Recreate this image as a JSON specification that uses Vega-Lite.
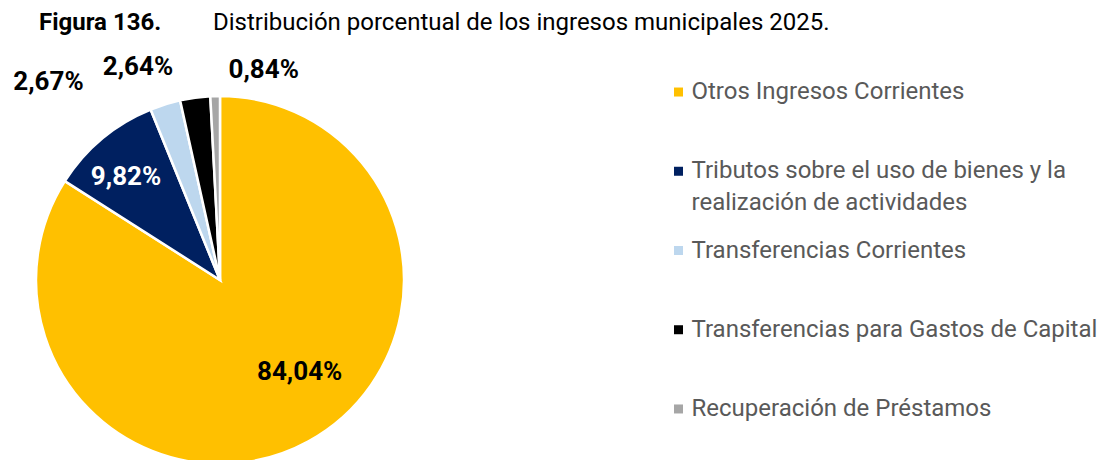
{
  "$schema": "https://vega.github.io/schema/vega-lite/v6.json",
  "autosize": "none",
  "bounds": "flush",
  "padding": {"left": 36, "top": 86, "right": 1069, "bottom": 374},
  "config": {"view": {"stroke": null}, "font": "Roboto"},
  "title": {"text": "Figura 136.", "anchor": "start", "frame": "group", "font": "Roboto", "fontSize": 24, "fontWeight": "bold", "color": "#000000", "dx": 3, "dy": 43, "baseline": "alphabetic", "offset": 0},
  "datasets": {
    "slices": [
      {"cat": "Otros Ingresos Corrientes", "leg": "Otros Ingresos Corrientes", "value": 84.04, "label": "84,04%", "o": 1},
      {"cat": "Tributos sobre el uso de bienes y la realización de actividades", "leg": "Tributos sobre el uso de bienes y la\nrealización de actividades", "value": 9.82, "label": "9,82%", "o": 2},
      {"cat": "Transferencias Corrientes", "leg": "Transferencias Corrientes", "value": 2.67, "label": "2,67%", "o": 3},
      {"cat": "Transferencias para Gastos de Capital", "leg": "Transferencias para Gastos de Capital", "value": 2.64, "label": "2,64%", "o": 4},
      {"cat": "Recuperación de Préstamos", "leg": "Recuperación de Préstamos", "value": 0.84, "label": "0,84%", "o": 5}
    ]
  },
  "hconcat": [
    {
      "width": 368,
      "height": 388,
      "title": {"text": "Distribución porcentual de los ingresos municipales 2025.", "anchor": "start", "frame": "group", "font": "Roboto", "fontSize": 24, "fontWeight": "normal", "color": "#000000", "dx": 177, "dy": 22, "baseline": "alphabetic", "offset": 20},
      "data": {"name": "slices"},
      "encoding": {
        "theta": {"field": "value", "type": "quantitative", "stack": true},
        "order": {"field": "o", "type": "quantitative"}
      },
      "layer": [
        {
          "mark": {"type": "arc", "outerRadius": 184, "stroke": "#ffffff", "strokeWidth": 2.5},
          "encoding": {
            "color": {"field": "cat", "type": "nominal", "legend": null,
              "scale": {"domain": ["Otros Ingresos Corrientes", "Tributos sobre el uso de bienes y la realización de actividades", "Transferencias Corrientes", "Transferencias para Gastos de Capital", "Recuperación de Préstamos"],
                        "range": ["#FFC000", "#002060", "#BDD7EE", "#000000", "#A6A6A6"]}}
          }
        },
        {
          "mark": {"type": "text", "radius": 122, "dx": 21, "dy": -15, "fontSize": 26, "fontWeight": "bold", "color": "#000000", "baseline": "middle", "align": "center"},
          "encoding": {"text": {"condition": {"test": "datum.o === 1", "field": "label"}, "value": ""}}
        },
        {
          "mark": {"type": "text", "radius": 139, "dx": -5, "dy": 4, "fontSize": 26, "fontWeight": "bold", "color": "#ffffff", "baseline": "middle", "align": "center"},
          "encoding": {"text": {"condition": {"test": "datum.o === 2", "field": "label"}, "value": ""}}
        },
        {
          "mark": {"type": "text", "radius": 200, "dx": -112, "dy": -7, "fontSize": 26, "fontWeight": "bold", "color": "#000000", "baseline": "middle", "align": "center"},
          "encoding": {"text": {"condition": {"test": "datum.o === 3", "field": "label"}, "value": ""}}
        },
        {
          "mark": {"type": "text", "radius": 200, "dx": -55, "dy": -15, "fontSize": 26, "fontWeight": "bold", "color": "#000000", "baseline": "middle", "align": "center"},
          "encoding": {"text": {"condition": {"test": "datum.o === 4", "field": "label"}, "value": ""}}
        },
        {
          "mark": {"type": "text", "radius": 200, "dx": 49, "dy": -10, "fontSize": 26, "fontWeight": "bold", "color": "#000000", "baseline": "middle", "align": "center"},
          "encoding": {"text": {"condition": {"test": "datum.o === 5", "field": "label"}, "value": ""}}
        }
      ]
    },
    {
      "width": 1,
      "height": 329,
      "data": {"name": "slices"},
      "encoding": {
        "y": {"field": "cat", "type": "nominal", "axis": null, "sort": {"field": "o"},
          "scale": {"type": "point", "padding": 0.076}}
      },
      "layer": [
        {
          "mark": {"type": "point", "shape": "square", "size": 81, "filled": true, "opacity": 1},
          "encoding": {
            "color": {"field": "cat", "type": "nominal", "legend": null,
              "scale": {"domain": ["Otros Ingresos Corrientes", "Tributos sobre el uso de bienes y la realización de actividades", "Transferencias Corrientes", "Transferencias para Gastos de Capital", "Recuperación de Préstamos"],
                        "range": ["#FFC000", "#002060", "#BDD7EE", "#000000", "#A6A6A6"]}}
          }
        },
        {
          "mark": {"type": "text", "align": "left", "baseline": "top", "dx": 13, "dy": -12, "fontSize": 24, "color": "#595959", "lineBreak": "\n", "lineHeight": 32},
          "encoding": {"text": {"field": "leg"}}
        }
      ]
    }
  ],
  "spacing": 274
}
